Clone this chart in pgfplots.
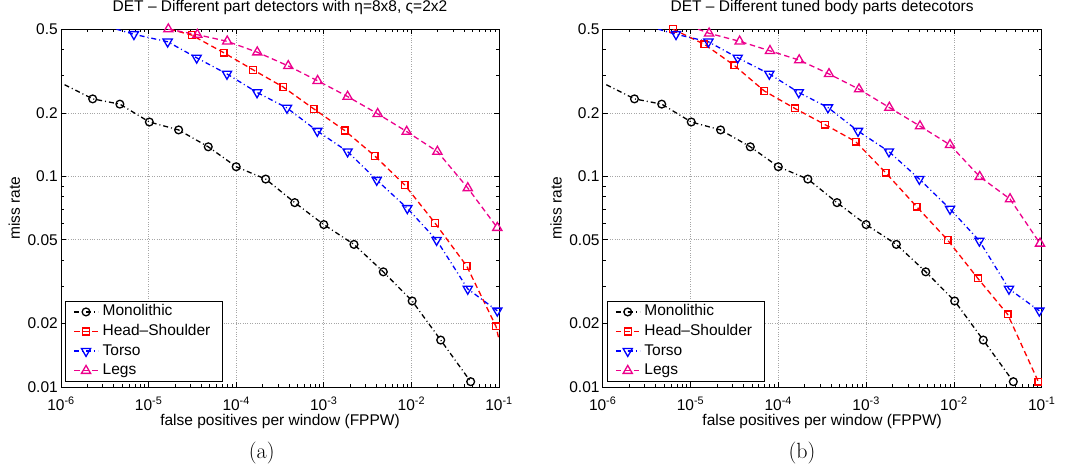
\documentclass[border=0pt]{standalone}
\usepackage{fontspec}
\setmainfont{Liberation Sans}
\newfontfamily\capfont{Latin Modern Roman}
\usepackage{pgfplots}
\pgfplotsset{compat=1.18}
\newcommand{\hvf}{\fontsize{15.5bp}{18bp}\selectfont}
\pgfplotsset{
  mono/.style={black, line width=1.3bp, dash pattern=on 5bp off 3bp on 1bp off 3bp, mark=o, mark size=3.9bp, mark options={solid, line width=1.3bp}},
  hs/.style={red, line width=1.3bp, dash pattern=on 5.5bp off 3.5bp, mark=square, mark size=3.4bp, mark options={solid, line width=1.3bp}},
  torso/.style={blue, line width=1.3bp, dash pattern=on 5bp off 3bp on 1bp off 3bp, mark=triangle, mark size=5.3bp, mark options={solid, rotate=180, line width=1.3bp}},
  legs/.style={magenta, line width=1.3bp, dash pattern=on 5.5bp off 3.5bp, mark=triangle, mark size=5.3bp, mark options={solid, line width=1.3bp}},
}
\begin{document}
\begin{tikzpicture}
\pgfplotsset{
  every axis/.append style={
    xmode=log, ymode=log, xmin=1e-6, xmax=0.1, ymin=0.01, ymax=0.5,
    scale only axis, height=358bp,
    axis line style={line width=0.9bp},
    xtick={1e-6,1e-5,1e-4,1e-3,1e-2,1e-1},
    xticklabels={10\textsuperscript{-6},10\textsuperscript{-5},10\textsuperscript{-4},10\textsuperscript{-3},10\textsuperscript{-2},10\textsuperscript{-1}},
    ytick={0.01,0.02,0.05,0.1,0.2,0.5},
    yticklabels={0.01,0.02,0.05,0.1,0.2,0.5},
    minor xtick={2e-6,3e-6,4e-6,5e-6,6e-6,7e-6,8e-6,9e-6,2e-5,3e-5,4e-5,5e-5,6e-5,7e-5,8e-5,9e-5,2e-4,3e-4,4e-4,5e-4,6e-4,7e-4,8e-4,9e-4,2e-3,3e-3,4e-3,5e-3,6e-3,7e-3,8e-3,9e-3,2e-2,3e-2,4e-2,5e-2,6e-2,7e-2,8e-2,9e-2},
    minor ytick={0.03,0.04,0.06,0.07,0.08,0.09,0.3,0.4},
    xtick pos=both, ytick pos=both, xticklabel pos=left, yticklabel pos=left,
    tick align=inside,
    major tick length=5bp, minor tick length=3bp,
    every tick/.style={black, line width=0.7bp},
    grid=major, major grid style={gray!70, dotted, line width=0.7bp},
    tick label style={font=\hvf},
    xticklabel style={anchor=base, inner sep=0pt, yshift=-23bp},
    yticklabel style={anchor=east, inner sep=0pt, xshift=-3bp},
    title style={at={(0.5,1)}, anchor=base, yshift=12bp, font=\hvf},
    xlabel style={at={(axis description cs:0.5,0)}, anchor=base, yshift=-38bp, font=\hvf},
    ylabel style={at={(axis description cs:-0.0936,0.5)}, anchor=base, font=\hvf},
    xlabel={false positives per window (FPPW)},
    ylabel={miss rate},
    legend cell align=left,
    legend style={at={(rel axis cs:0.009,0.014)}, anchor=south west, draw=black, line width=0.9bp,
      font=\hvf, inner xsep=8bp, inner ysep=1bp, row sep=0bp,
      nodes={inner ysep=1.8bp, inner xsep=4bp, text depth=4bp, text height=12bp}},
    legend image code/.code={\draw[mark indices={2}] plot coordinates {(0bp,0bp)(12bp,0bp)(24bp,0bp)};},
  }
}
\path[use as bounding box] (0,0) rectangle (1074bp,475bp);
% ---------------- (a) ----------------
\begin{axis}[width=438bp, at={(61bp,88bp)}, anchor=south west,
  title={DET -- Different part detectors with η=8x8, ς=2x2}]
\addplot[mono, mark indices={2,3,4,5,6,7,8,9,10,11,12,13,14,15}] coordinates {
(1.1e-6,0.272) (2.3e-6,0.233) (4.7e-6,0.22) (1.02e-5,0.181) (2.2e-5,0.166) (4.8e-5,0.138)
(1e-4,0.111) (2.17e-4,0.097) (4.66e-4,0.075) (1e-3,0.059) (2.21e-3,0.0475) (4.78e-3,0.0352)
(1.02e-2,0.0256) (2.16e-2,0.0167) (4.75e-2,0.0106)};
\addlegendentry{Monolithic}
\addplot[hs, mark indices={2,3,4,5,6,7,8,9,10,11,12}] coordinates {
(1.75e-5,0.499) (3.1e-5,0.468) (7.2e-5,0.386) (1.56e-4,0.32) (3.45e-4,0.265) (7.67e-4,0.209)
(1.73e-3,0.165) (3.81e-3,0.125) (8.39e-3,0.091) (1.86e-2,0.060) (4.28e-2,0.0375)
(9.24e-2,0.0194) (0.1,0.0168)};
\addlegendentry{Head--Shoulder}
\addplot[torso, mark indices={2,3,4,5,6,7,8,9,10,11,12,13,14}] coordinates {
(4.3e-6,0.499) (6.8e-6,0.472) (1.65e-5,0.435) (3.54e-5,0.365) (7.85e-5,0.306) (1.73e-4,0.25)
(3.8e-4,0.211) (8.43e-4,0.164) (1.87e-3,0.131) (4.02e-3,0.096) (8.98e-3,0.0705)
(1.94e-2,0.0498) (4.4e-2,0.0292) (9.56e-2,0.023)};
\addlegendentry{Torso}
\addplot[legs] coordinates {
(1.68e-5,0.499) (3.6e-5,0.47) (7.9e-5,0.437) (1.74e-4,0.388) (3.93e-4,0.334) (8.5e-4,0.284)
(1.87e-3,0.239) (4.12e-3,0.198) (8.84e-3,0.163) (1.98e-2,0.131) (4.4e-2,0.088) (9.56e-2,0.057)};
\addlegendentry{Legs}
\end{axis}
% ---------------- (b) ----------------
\begin{axis}[width=439bp, at={(602.7bp,88bp)}, anchor=south west,
  title={DET -- Different tuned body parts detecotors}]
\addplot[mono, mark indices={2,3,4,5,6,7,8,9,10,11,12,13,14,15}] coordinates {
(1.1e-6,0.272) (2.3e-6,0.233) (4.7e-6,0.22) (1.02e-5,0.181) (2.2e-5,0.166) (4.8e-5,0.138)
(1e-4,0.111) (2.17e-4,0.097) (4.66e-4,0.075) (1e-3,0.059) (2.21e-3,0.0475) (4.78e-3,0.0352)
(1.02e-2,0.0256) (2.16e-2,0.0167) (4.75e-2,0.0106)};
\addlegendentry{Monolithic}
\addplot[hs] coordinates {
(6.32e-6,0.499) (1.44e-5,0.423) (3.15e-5,0.336) (6.93e-5,0.254) (1.54e-4,0.21) (3.4e-4,0.176)
(7.62e-4,0.146) (1.67e-3,0.104) (3.77e-3,0.0717) (8.5e-3,0.0498) (1.87e-2,0.0328)
(4.1e-2,0.0221) (9.15e-2,0.0106)};
\addlegendentry{Head--Shoulder}
\addplot[torso, mark indices={2,3,4,5,6,7,8,9,10,11,12,13,14}] coordinates {
(4.3e-6,0.499) (6.84e-6,0.472) (1.6e-5,0.435) (3.45e-5,0.365) (7.9e-5,0.306) (1.71e-4,0.25)
(3.68e-4,0.212) (8.09e-4,0.164) (1.82e-3,0.131) (4.04e-3,0.097) (9.03e-3,0.070)
(1.95e-2,0.0494) (4.24e-2,0.0292) (9.4e-2,0.023)};
\addlegendentry{Torso}
\addplot[legs, mark indices={2,3,4,5,6,7,8,9,10,11,12,13}] coordinates {
(1.22e-5,0.499) (1.63e-5,0.477) (3.63e-5,0.437) (8.04e-5,0.394) (1.73e-4,0.356) (3.78e-4,0.306)
(8.3e-4,0.259) (1.84e-3,0.212) (4.11e-3,0.173) (9.03e-3,0.141) (1.97e-2,0.0995)
(4.36e-2,0.078) (9.57e-2,0.048)};
\addlegendentry{Legs}
\end{axis}
\node[anchor=base, font=\capfont\fontsize{22bp}{25bp}\selectfont] at (261.7bp,17bp) {(a)};
\node[anchor=base, font=\capfont\fontsize{22bp}{25bp}\selectfont] at (802bp,17bp) {(b)};
\end{tikzpicture}
\end{document}
